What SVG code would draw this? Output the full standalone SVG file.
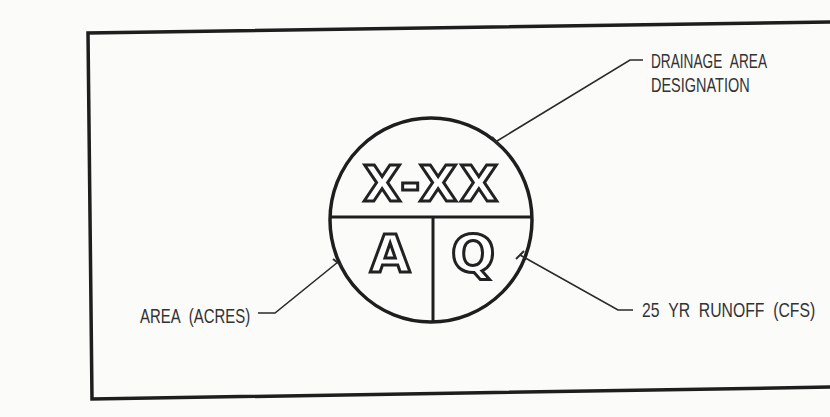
<svg xmlns="http://www.w3.org/2000/svg" width="830" height="417" viewBox="0 0 830 417">
<style>
.bg{fill:#fbfbfa}
.frame{fill:none;stroke:#1e1e1e;stroke-width:3.5;stroke-linejoin:miter}
.heavy{fill:none;stroke:#1e1e1e;stroke-width:3.5}
.div{fill:none;stroke:#1e1e1e;stroke-width:3}
.lead{fill:none;stroke:#2a2a2a;stroke-width:1.6}
.tick{fill:none;stroke:#2a2a2a;stroke-width:2}
.label{font-family:"Liberation Sans",Arial,sans-serif;font-size:21px;fill:#333}
.big{font-family:"DejaVu Sans",sans-serif;font-weight:700;fill:#fff;stroke:#222;stroke-width:3;text-anchor:middle}
</style>
<rect class="bg" x="0" y="0" width="830" height="417"/>
<polyline class="frame" points="834,22 88,33 92,399 834,387"/>
<g id="symbol">
<ellipse class="heavy" cx="431" cy="220" rx="101" ry="102"/>
<line class="div" x1="330" y1="217" x2="532" y2="217"/>
<line class="div" x1="433" y1="217" x2="433" y2="322"/>
<text class="big" x="432" y="201" font-size="49" letter-spacing="3">X-XX</text>
<text class="big" x="390" y="272" font-size="52">A</text>
<text class="big" x="473" y="272" font-size="52">Q</text>
</g>
<g id="connectors">
<polyline class="lead" points="497,141 630,60 643,60"/>
<line class="tick" x1="492" y1="137" x2="500" y2="146"/>
<polyline class="lead" points="258,313 275,313 338,262"/>
<line class="tick" x1="333" y1="259" x2="342" y2="266"/>
<polyline class="lead" points="520,255 618,310 633,310"/>
<line class="tick" x1="516" y1="259" x2="524" y2="251"/>
</g>
<g id="label-drainage">
<text class="label" transform="translate(651,68) scale(0.65,1)">DRAINAGE&#160;&#160;AREA</text>
<text class="label" transform="translate(651,92) scale(0.69,1)">DESIGNATION</text>
</g>
<g id="label-area">
<text class="label" transform="translate(140,323) scale(0.71,1)">AREA&#160;&#160;(ACRES)</text>
</g>
<g id="label-runoff">
<text class="label" transform="translate(642,317) scale(0.75,1)">25&#160;&#160;YR&#160;&#160;RUNOFF&#160;&#160;(CFS)</text>
</g>
</svg>
